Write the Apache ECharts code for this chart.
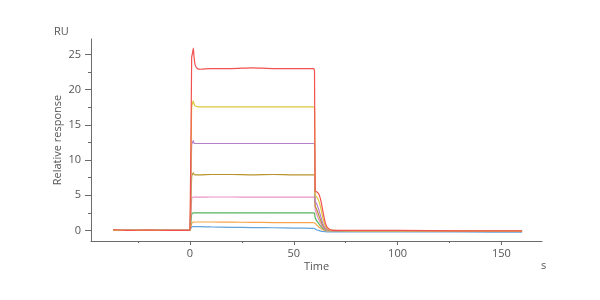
<!DOCTYPE html>
<html>
<head>
<meta charset="utf-8">
<script src="https://cdn.jsdelivr.net/npm/echarts@6/dist/echarts.min.js"></script>
<style>
html, body { margin: 0; padding: 0; background: #fff; }
#chart { width: 600px; height: 300px; }
</style>
</head>
<body>
<div id="chart"></div>
<script>
// time points (s) shared by all curves
var times = [-37, -30, -20, -10, -1, 0, 0.8, 1.2, 1.6, 1.9, 2.5, 3.5, 5, 10, 20, 30, 40, 50, 59.5, 60, 60.3, 61, 62, 63, 64, 65, 66, 67, 68, 70, 80, 100, 130, 160];

// response (RU) per curve, lowest concentration first
var blue   = [0.05, 0, 0.02, 0, 0, 0.05, 0.5, 0.55, 0.55, 0.55, 0.55, 0.55, 0.55, 0.5, 0.45, 0.4, 0.38, 0.33, 0.3, 0.28, 0.2, 0.1, 0, -0.1, -0.15, -0.18, -0.2, -0.2, -0.2, -0.2, -0.2, -0.2, -0.22, -0.25];
var orange = [0.05, 0, 0.02, 0, 0, 0.05, 1.0, 1.1, 1.2, 1.2, 1.2, 1.2, 1.2, 1.2, 1.18, 1.15, 1.12, 1.1, 1.1, 1.05, 1.0, 0.8, 0.5, 0.3, 0.1, 0, -0.05, -0.05, -0.05, -0.05, -0.08, -0.08, -0.1, -0.12];
var green  = [0.05, 0, 0.02, 0, 0, 0.05, 2.3, 2.45, 2.5, 2.5, 2.5, 2.5, 2.5, 2.5, 2.5, 2.5, 2.5, 2.5, 2.5, 2.45, 1.8, 1.4, 1.0, 0.6, 0.3, 0.1, 0, -0.02, -0.03, -0.05, -0.05, -0.05, -0.08, -0.1];
var pink   = [0.05, 0, 0.02, 0, 0, 0.05, 4.5, 4.7, 4.75, 4.75, 4.72, 4.72, 4.72, 4.75, 4.75, 4.73, 4.73, 4.73, 4.73, 4.6, 3.0, 2.4, 1.6, 1.0, 0.5, 0.2, 0.05, 0, -0.02, -0.03, -0.05, -0.05, -0.07, -0.1];
var brown  = [0.05, 0, 0.02, 0, 0, 0.05, 7.6, 8.0, 8.2, 8.0, 7.9, 7.9, 7.9, 7.95, 7.95, 7.9, 7.95, 7.9, 7.9, 7.8, 3.5, 3.0, 2.2, 1.4, 0.7, 0.3, 0.1, 0.02, 0, -0.02, -0.05, -0.05, -0.07, -0.1];
var purple = [0.05, 0, 0.02, 0, 0, 0.05, 12.2, 12.5, 12.75, 12.4, 12.35, 12.35, 12.35, 12.35, 12.35, 12.35, 12.35, 12.35, 12.35, 12.2, 4.2, 3.8, 3.0, 2.0, 1.0, 0.4, 0.15, 0.05, 0, -0.02, -0.05, -0.05, -0.07, -0.1];
var yellow = [0.05, 0, 0.02, 0, 0, 0.05, 17.5, 18.1, 18.4, 18.0, 17.7, 17.6, 17.55, 17.55, 17.55, 17.55, 17.55, 17.55, 17.55, 17.4, 5.0, 4.8, 4.2, 3.2, 1.8, 0.8, 0.3, 0.1, 0.02, 0, -0.05, -0.05, -0.07, -0.1];
var red    = [0.1, 0, 0.05, 0, 0, 0.1, 24.6, 25.2, 25.9, 24.8, 23.5, 23.0, 22.9, 23.0, 23.0, 23.1, 23.0, 23.0, 23.0, 22.5, 5.6, 5.5, 5.2, 4.3, 2.8, 1.3, 0.5, 0.2, 0.05, 0.02, 0, 0, -0.05, -0.05];

var seriesNames  = ['c1', 'c2', 'c3', 'c4', 'c5', 'c6', 'c7', 'c8'];
var seriesValues = [blue, orange, green, pink, brown, purple, yellow, red];
var seriesColors = ['#63a3dc', '#f6a54b', '#55b35a', '#ec92c4', '#b8942c', '#b680c8', '#dcc83e', '#f2514f'];

// axis ticks and labels
var yLabels = [0, 5, 10, 15, 20, 25];
var yMinor  = [2.5, 7.5, 12.5, 17.5, 22.5];
var xLabels = [0, 50, 100, 150];
var xMinor  = [-25, 25, 75, 125];

var axisGray = '#6b6b6b';
var textGray = '#555';
var font = 'Open Sans';

var series = [];
for (var i = 0; i < seriesValues.length; i++) {
    var pts = [];
    for (var j = 0; j < times.length; j++) {
        pts.push([times[j], seriesValues[i][j]]);
    }
    series.push({
        name: seriesNames[i],
        type: 'line',
        data: pts,
        showSymbol: false,
        smooth: 0.2,
        lineStyle: { width: 1.2, color: seriesColors[i] },
        itemStyle: { color: seriesColors[i] },
        z: 2 + i
    });
}

var option = {
    animation: false,
    grid: { left: 91, right: 58, top: 39, bottom: 59 },
    xAxis: [{
        type: 'value',
        min: -47.7,
        max: 169.6,
        name: 'Time',
        nameLocation: 'middle',
        nameGap: 20,
        nameMoveOverlap: false,
        nameTextStyle: { color: textGray, fontFamily: font, fontSize: 11 },
        axisLine: { onZero: false, lineStyle: { color: axisGray, width: 1 } },
        axisTick: { show: true, length: 4, customValues: xLabels, lineStyle: { color: axisGray } },
        axisLabel: { customValues: xLabels, color: textGray, fontFamily: font, fontSize: 11, margin: 7 },
        splitLine: { show: false }
    }, {
        type: 'value',
        position: 'bottom',
        min: -47.7,
        max: 169.6,
        axisLine: { show: false, onZero: false },
        axisTick: { show: true, length: 2, customValues: xMinor, lineStyle: { color: axisGray } },
        axisLabel: { show: false },
        splitLine: { show: false }
    }],
    yAxis: [{
        type: 'value',
        min: -1.5,
        max: 27.2,
        name: 'Relative response',
        nameLocation: 'middle',
        nameGap: 28,
        nameMoveOverlap: false,
        nameTextStyle: { color: textGray, fontFamily: font, fontSize: 11 },
        axisLine: { show: true, onZero: false, lineStyle: { color: axisGray, width: 1 } },
        axisTick: { show: true, length: 6, customValues: yLabels, lineStyle: { color: axisGray } },
        axisLabel: { customValues: yLabels, color: textGray, fontFamily: font, fontSize: 11, margin: 10 },
        splitLine: { show: false }
    }, {
        type: 'value',
        position: 'left',
        min: -1.5,
        max: 27.2,
        axisLine: { show: false, onZero: false },
        axisTick: { show: true, length: 3, customValues: yMinor, lineStyle: { color: axisGray } },
        axisLabel: { show: false },
        splitLine: { show: false }
    }],
    graphic: [
        { type: 'text', left: 54, top: 26, style: { text: 'RU', fill: textGray, font: '11px "' + font + '"' } },
        { type: 'text', left: 541, top: 260, style: { text: 's', fill: textGray, font: '11px "' + font + '"' } }
    ],
    series: series
};

var chart = echarts.init(document.getElementById('chart'), null, { renderer: 'canvas' });
chart.setOption(option);
</script>
</body>
</html>
